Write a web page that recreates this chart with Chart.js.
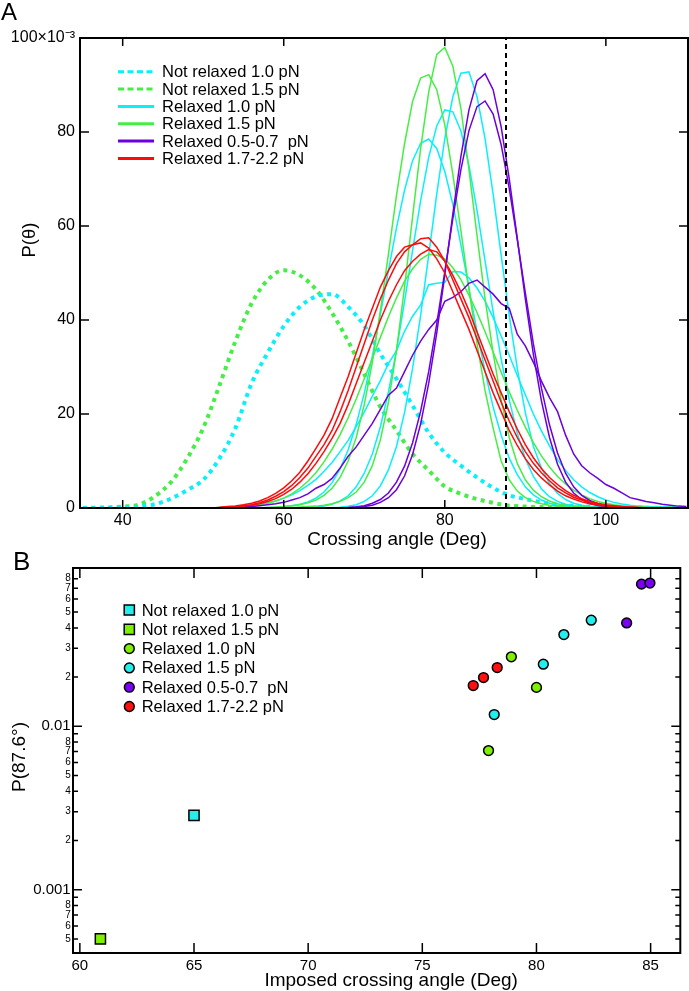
<!DOCTYPE html>
<html>
<head>
<meta charset="utf-8">
<script src="https://cdn.jsdelivr.net/npm/chart.js@4.4.1/dist/chart.umd.min.js"></script>
<style>
  html, body { margin: 0; padding: 0; background: #fff; }
  body { position: relative; width: 689px; height: 991px; overflow: hidden; font-family: 'Liberation Sans', Arial, sans-serif; }
  canvas { position: absolute; left: 0; }
  #chartA { top: 0; }
  #chartB { top: 545px; }
  .panel { position: absolute; line-height: 1; color: #000; }
</style>
</head>
<body>
<canvas id="chartA" width="689" height="553"></canvas>
<canvas id="chartB" width="689" height="446"></canvas>
<div class="panel" style="left:1px;top:0px;font-size:24px">A</div>
<div class="panel" style="left:13px;top:548px;font-size:26px">B</div>
<script>
const FONT = "'Liberation Sans', Arial, sans-serif";
Chart.defaults.font.family = FONT;
Chart.defaults.color = '#000';

// ---------- panel A : P(theta) distributions (x10^-3) ----------
const angleDotted = [34, 36, 38, 40, 42, 44, 46, 48, 50, 52, 54, 56, 58, 60, 62, 64, 66, 68, 70, 72,
  74, 76, 78, 80, 82, 84, 86, 88, 90, 92, 94, 96, 98, 100, 102, 104, 106, 108, 110];
const notRelaxed10 = [0, 0, 0.05, 0.1, 0.3, 0.8, 2, 3.8, 6, 10.5,
  17, 26.5, 33, 38.7, 42.8, 45, 45.5, 42.8, 38.8, 32.8,
  27.5, 21.8, 16, 11.8, 9, 6.5, 4.3, 2.7, 1.9, 1.2,
  0.7, 0.4, 0.3, 0.2, 0.15, 0.1, 0.05, 0, 0];
const notRelaxed15 = [0, 0.05, 0.1, 0.3, 0.7, 2.5, 5.5, 10.5, 17, 26,
  35.5, 43.5, 48.5, 50.6, 49.5, 46.5, 41.5, 35.5, 28.5, 21.5,
  16.5, 11.5, 8, 4.6, 3, 1.9, 1.1, 0.5, 0.3, 0.2,
  0.1, 0.05, 0, 0, 0, 0, 0, 0, 0];

const angleSolid = [50, 51, 52, 53, 54, 55, 56, 57, 58, 59,
  60, 61, 62, 63, 64, 65, 66, 67, 68, 69,
  70, 71, 72, 73, 74, 75, 76, 77, 78, 79,
  80, 81, 82, 83, 84, 85, 86, 87, 88, 89,
  90, 91, 92, 93, 94, 95, 96, 97, 98, 99,
  100, 101, 102, 103, 104, 105, 106, 107, 108, 109, 110];

// Relaxed 1.0 pN (cyan)
const relaxed10_a = [0, 0, 0, 0, 0, 0, 0, 0, 0, 0,
  0, 0, 0, 0, 0, 0, 0.05, 0.15, 0.35, 0.7,
  1.4, 2.6, 4.7, 8.1, 13.1, 20.3, 29.7, 41, 53.8, 66.8,
  78.6, 87.5, 92.5, 92.8, 87.5, 78.6, 66.8, 53.8, 41, 29.7,
  20.3, 13.1, 8.5, 5.2, 3.1, 1.8, 1, 0.6, 0.35, 0.2,
  0.1, 0.05, 0, 0, 0, 0, 0, 0, 0, 0, 0];
const relaxed10_b = [0, 0, 0, 0, 0, 0, 0, 0, 0, 0,
  0, 0, 0, 0, 0.2, 0.4, 0.8, 1.5, 2.6, 4.5,
  7.4, 11.5, 17.3, 24.7, 33.6, 43.9, 54.8, 65.4, 74.6, 81.3,
  84.7, 84.3, 80.2, 72.9, 63.4, 52.6, 41.8, 31.7, 23, 15.9,
  10.5, 6.7, 4.1, 2.4, 1.4, 0.8, 0.45, 0.25, 0.12, 0.06,
  0, 0, 0, 0, 0, 0, 0, 0, 0, 0, 0];
const relaxed10_c = [0, 0, 0, 0, 0, 0, 0, 0, 0.1, 0.18,
  0.3, 0.5, 0.8, 1.3, 2.1, 3.4, 5.4, 8.3, 12.4, 17.8,
  24.4, 32.3, 41.2, 50.5, 59.6, 67.6, 73.9, 77.6, 78.5, 76.5,
  71.6, 64.6, 56, 46.8, 37.5, 29.1, 21.5, 15.5, 10.6, 7.1,
  4.5, 2.8, 1.7, 1, 0.6, 0.35, 0.2, 0.1, 0.05, 0,
  0, 0, 0, 0, 0, 0, 0, 0, 0, 0, 0];
const relaxed10_d = [0, 0, 0.1, 0.15, 0.25, 0.4, 0.55, 0.8, 1.1, 1.5,
  2.1, 2.8, 3.7, 4.8, 6.1, 7.8, 9.7, 12, 14.4, 17.3,
  20.4, 23.8, 27.1, 30.7, 33.5, 37.6, 40.8, 43.2, 47.5, 47.8,
  48, 50.3, 50.2, 49, 46.8, 44, 40.5, 36.6, 32.5, 28.2,
  24.1, 20, 16.4, 13.2, 10.3, 8, 6, 4.5, 3.3, 2.4,
  1.7, 1.2, 0.85, 0.6, 0.4, 0.3, 0.2, 0.15, 0.1, 0.1, 0.05];

// Relaxed 1.5 pN (green)
const relaxed15_a = [0, 0, 0, 0, 0, 0, 0, 0, 0, 0.05,
  0.1, 0.12, 0.2, 0.3, 0.4, 0.6, 0.9, 1.4, 2.2, 3.4,
  5.5, 9, 14.5, 22.5, 33.5, 47, 62, 76.5, 88.5, 96.5,
  98, 94, 85, 72, 58, 44.5, 33, 23, 15, 9.5,
  6, 3.8, 2.4, 1.5, 0.9, 0.6, 0.4, 0.25, 0.15, 0.1,
  0.05, 0.03, 0, 0, 0, 0, 0, 0, 0, 0, 0];
const relaxed15_b = [0, 0, 0, 0, 0, 0, 0, 0, 0.1, 0.2,
  0.3, 0.5, 0.7, 1.1, 1.7, 2.7, 4.2, 6.5, 10, 15,
  22, 31, 42, 54, 66.5, 77.5, 86.5, 91.5, 92.2, 89,
  81.5, 71, 59, 46.5, 35, 25, 17, 10, 6, 3.6,
  2.2, 1.4, 0.9, 0.6, 0.35, 0.2, 0.1, 0.05, 0, 0,
  0, 0, 0, 0, 0, 0, 0, 0, 0, 0, 0];
const relaxed15_c = [0, 0, 0.1, 0.15, 0.2, 0.3, 0.45, 0.7, 1, 1.5,
  2.1, 3, 4.2, 5.7, 7.5, 9.8, 12.5, 15.6, 19.2, 23.2,
  27.5, 31.8, 36.3, 40.7, 44.7, 48.2, 50.9, 52.9, 54, 53.8,
  53, 51.1, 48.6, 45.3, 41.6, 37.5, 33.2, 28.9, 24.7, 20.8,
  17.2, 13.9, 11.1, 8.7, 6.7, 5.1, 3.8, 2.8, 2, 1.4,
  1, 0.7, 0.5, 0.35, 0.25, 0.15, 0.1, 0.05, 0, 0, 0];

// Relaxed 0.5-0.7 pN (purple)
const relaxed0507_a = [0, 0, 0, 0, 0, 0, 0, 0, 0, 0,
  0, 0, 0, 0, 0, 0, 0, 0, 0.05, 0.15,
  0.3, 0.6, 1.2, 2.2, 3.9, 6.8, 11.4, 17.9, 26.5, 37.2,
  49.6, 62.6, 74.8, 84.7, 90.9, 92.4, 89, 81.1, 70.1, 57.4,
  44.5, 32.7, 22.8, 15, 9.3, 5.5, 3.2, 1.8, 1, 0.55,
  0.3, 0.15, 0.08, 0.04, 0, 0, 0, 0, 0, 0, 0];
const relaxed0507_b = [0, 0, 0, 0, 0, 0, 0, 0, 0, 0,
  0, 0, 0, 0, 0, 0, 0, 0, 0.1, 0.25,
  0.5, 1, 1.8, 3.2, 5.5, 8.9, 13.9, 20.6, 29, 39.2,
  50.3, 61.6, 72, 80.3, 85.4, 86.6, 83.8, 77.3, 68, 57.1,
  45.8, 34.9, 25.5, 17.7, 11.7, 7.4, 4.5, 2.7, 1.6, 0.9,
  0.5, 0.3, 0.15, 0.08, 0.04, 0, 0, 0, 0, 0, 0];
const relaxed0507_c = [0, 0, 0, 0, 0.1, 0.2, 0.3, 0.5, 0.7, 0.9,
  1.2, 1.7, 2.2, 3, 4.2, 5, 6.3, 8.5, 11, 13,
  15.5, 18, 21, 24, 25.5, 29, 32.5, 35.5, 38, 40,
  44, 44.8, 46, 47.8, 48.5, 47, 45.5, 43.5, 42.5, 37,
  34.5, 31, 27, 23.5, 20.5, 15.5, 11.5, 9, 7.5, 6.3,
  5, 4.2, 3.2, 2.2, 1.8, 1.4, 1.1, 0.8, 0.6, 0.4, 0.3];

// Relaxed 1.7-2.2 pN (red)
const relaxed1722_a = [0, 0, 0.1, 0.2, 0.3, 0.5, 0.7, 1.1, 1.7, 2.5,
  3.5, 4.8, 6.5, 8.5, 11, 13.5, 16.5, 20.5, 25, 30,
  35, 40, 44.5, 48.5, 52, 54.5, 56, 57.3, 57.5, 55.5,
  52.5, 48.5, 44.5, 40.5, 36, 31.5, 27, 22.5, 18.5, 15,
  12, 9.5, 7.5, 5.8, 4.3, 3.2, 2.3, 1.7, 1.2, 0.8,
  0.5, 0.35, 0.25, 0.15, 0.1, 0.05, 0, 0, 0, 0, 0];
const relaxed1722_b = [0, 0, 0.1, 0.3, 0.45, 0.7, 1, 1.5, 2.2, 3.1,
  4.3, 5.8, 7.6, 10, 12.7, 15.5, 19, 23.5, 28, 33,
  38, 42.5, 47, 50.5, 53.5, 55.5, 56, 56.4, 55.3, 53,
  50, 46, 42, 38, 33.5, 29, 24.5, 20.5, 16.5, 13.3,
  10.5, 8.2, 6.4, 4.9, 3.6, 2.6, 1.9, 1.3, 0.9, 0.6,
  0.4, 0.25, 0.15, 0.1, 0.05, 0, 0, 0, 0, 0, 0];
const relaxed1722_c = [0, 0, 0, 0.15, 0.25, 0.4, 0.6, 0.9, 1.4, 2,
  2.9, 4, 5.5, 7.3, 9.5, 12, 14.8, 18, 22, 26.5,
  31, 35.5, 40, 44, 47.5, 50.5, 52.5, 54, 55, 54.5,
  52.5, 49.5, 46, 42, 37.5, 33, 28.5, 24.5, 20.5, 16.8,
  13.5, 10.7, 8.4, 6.5, 5, 3.7, 2.7, 2, 1.4, 1,
  0.7, 0.5, 0.3, 0.2, 0.1, 0.05, 0, 0, 0, 0, 0];

const markerAngle = 87.6;
const thetaTicksA = [40, 60, 80, 100];
const probTicksA = [0, 20, 40, 60, 80, 100];
const probLabelsA = ['0', '20', '40', '60', '80', '100×10⁻³'];

// ---------- panel B : P(87.6°) vs imposed angle ----------
const notRelaxed10X = [65.0];
const notRelaxed10Y = [0.00285];
const notRelaxed15X = [60.9];
const notRelaxed15Y = [0.0005];
const relaxed10X = [77.9, 78.9, 80.0];
const relaxed10Y = [0.0071, 0.0266, 0.0173];
const relaxed15X = [78.15, 80.3, 81.2, 82.4];
const relaxed15Y = [0.0118, 0.024, 0.0364, 0.0446];
const relaxed0507X = [83.95, 84.6, 84.97];
const relaxed0507Y = [0.0429, 0.0741, 0.0752];
const relaxed1722X = [77.23, 77.68, 78.28];
const relaxed1722Y = [0.01775, 0.01987, 0.02288];

const angleTicksB = [60, 65, 70, 75, 80, 85];
const probTicksB = [0.0005, 0.0006, 0.0007, 0.0008, 0.0009, 0.001, 0.002, 0.003, 0.004, 0.005, 0.006,
  0.007, 0.008, 0.009, 0.01, 0.02, 0.03, 0.04, 0.05, 0.06, 0.07, 0.08];
const probLabelsB = ['5', '6', '7', '8', '', '0.001', '2', '3', '4', '5', '6',
  '7', '8', '', '0.01', '2', '3', '4', '5', '6', '7', '8'];

const CYAN = '#08f0fa';
const GREEN = '#45ee45';
const PURPLE = '#6c00dc';
const RED = '#ff0a0a';
const CYAN_B = '#22eeee';
const GREEN_B = '#7ff000';
const PURPLE_B = '#7c00f4';
const RED_B = '#ff1010';

const toPoints = (xs, ys) => xs.map((x, i) => ({ x: x, y: ys[i] }));

// inward ticks on all four sides + box frame
const frameTicks = {
  id: 'frameTicks',
  afterDraw(chart, args, opts) {
    const { ctx, chartArea: a } = chart;
    const xs = chart.scales.x, ys = chart.scales.y;
    ctx.save();
    ctx.strokeStyle = '#000';
    ctx.lineWidth = opts.tickWidth;
    ctx.beginPath();
    xs.ticks.forEach(t => {
      const p = xs.getPixelForValue(t.value);
      ctx.moveTo(p, a.bottom); ctx.lineTo(p, a.bottom - opts.xLen);
      ctx.moveTo(p, a.top); ctx.lineTo(p, a.top + opts.xLen);
    });
    ys.ticks.forEach(t => {
      const p = ys.getPixelForValue(t.value);
      const len = t.major === false ? opts.yMinor : opts.yMajor;
      ctx.moveTo(a.left, p); ctx.lineTo(a.left + len, p);
      ctx.moveTo(a.right, p); ctx.lineTo(a.right - len, p);
    });
    ctx.stroke();
    ctx.lineWidth = opts.frameWidth;
    ctx.strokeRect(a.left, a.top, a.right - a.left, a.bottom - a.top);
    ctx.restore();
  }
};

// axis titles, placed off-centre like the original figure
const axisTitles = {
  id: 'axisTitles',
  afterDraw(chart, args, opts) {
    const { ctx, chartArea: a } = chart;
    ctx.save();
    ctx.fillStyle = '#000';
    ctx.textAlign = 'center';
    ctx.textBaseline = 'alphabetic';
    ctx.font = opts.size + 'px ' + FONT;
    ctx.fillText(opts.xText, (a.left + a.right) / 2 + opts.xShift, a.bottom + opts.xBase);
    ctx.translate(a.left - opts.yBase, a.top + opts.yCenter);
    ctx.rotate(-Math.PI / 2);
    ctx.font = opts.ySize + 'px ' + FONT;
    ctx.fillText(opts.yText, 0, 0);
    ctx.restore();
  }
};

// legend inside plot A: line samples
const legendA = {
  id: 'legendA',
  afterDraw(chart) {
    const { ctx, chartArea: a } = chart;
    ctx.save();
    ctx.font = '16.5px ' + FONT;
    ctx.textBaseline = 'middle';
    chart.data.datasets.forEach(d => {
      if (d.legendRow === undefined) return;
      const y = a.top + 33.7 + d.legendRow * 17.35;
      ctx.strokeStyle = d.borderColor;
      ctx.lineWidth = 3;
      ctx.setLineDash(d.borderDash ? [6, 3.5] : []);
      ctx.beginPath();
      ctx.moveTo(a.left + 38, y);
      ctx.lineTo(a.left + 74, y);
      ctx.stroke();
      ctx.setLineDash([]);
      ctx.fillStyle = '#000';
      ctx.fillText(d.label, a.left + 82, y + 1);
    });
    ctx.restore();
  }
};

// legend inside plot B: markers
const legendB = {
  id: 'legendB',
  afterDraw(chart) {
    const { ctx, chartArea: a } = chart;
    ctx.save();
    ctx.font = '16.5px ' + FONT;
    ctx.textBaseline = 'middle';
    chart.data.datasets.forEach((d, i) => {
      const y = a.top + 42 + i * 19.3;
      const x = a.left + 56.3;
      ctx.fillStyle = d.backgroundColor;
      ctx.strokeStyle = '#000';
      ctx.lineWidth = 1.5;
      ctx.beginPath();
      if (d.pointStyle === 'rect') {
        const s = d.pointRadius * Math.SQRT1_2;
        ctx.rect(x - s, y - s, 2 * s, 2 * s);
      } else {
        ctx.arc(x, y, d.pointRadius, 0, Math.PI * 2);
      }
      ctx.fill();
      ctx.stroke();
      ctx.fillStyle = '#000';
      ctx.fillText(d.label, a.left + 68.7, y + 1);
    });
    ctx.restore();
  }
};

function solidLine(label, values, color, row) {
  return {
    label: label,
    data: toPoints(angleSolid, values),
    borderColor: color,
    borderWidth: 1.5,
    legendRow: row,
    order: 2
  };
}

const datasetsA = [
  {
    label: 'Not relaxed 1.0 pN', data: toPoints(angleDotted, notRelaxed10),
    borderColor: CYAN, borderWidth: 4, borderDash: [4, 4.5], cubicInterpolationMode: 'monotone',
    legendRow: 0, order: 3
  },
  {
    label: 'Not relaxed 1.5 pN', data: toPoints(angleDotted, notRelaxed15),
    borderColor: GREEN, borderWidth: 4, borderDash: [4, 4.5], cubicInterpolationMode: 'monotone',
    legendRow: 1, order: 3
  },
  solidLine('Relaxed 1.0 pN', relaxed10_a, CYAN, 2),
  solidLine('Relaxed 1.0 pN', relaxed10_b, CYAN),
  solidLine('Relaxed 1.0 pN', relaxed10_c, CYAN),
  solidLine('Relaxed 1.0 pN', relaxed10_d, CYAN),
  solidLine('Relaxed 1.5 pN', relaxed15_a, GREEN, 3),
  solidLine('Relaxed 1.5 pN', relaxed15_b, GREEN),
  solidLine('Relaxed 1.5 pN', relaxed15_c, GREEN),
  solidLine('Relaxed 0.5-0.7  pN', relaxed0507_a, PURPLE, 4),
  solidLine('Relaxed 0.5-0.7  pN', relaxed0507_b, PURPLE),
  solidLine('Relaxed 0.5-0.7  pN', relaxed0507_c, PURPLE),
  solidLine('Relaxed 1.7-2.2 pN', relaxed1722_a, RED, 5),
  solidLine('Relaxed 1.7-2.2 pN', relaxed1722_b, RED),
  solidLine('Relaxed 1.7-2.2 pN', relaxed1722_c, RED),
  {
    label: 'P(87.6°) marker',
    data: [{ x: markerAngle, y: probTicksA[0] }, { x: markerAngle, y: probTicksA[probTicksA.length - 1] }],
    borderColor: '#000', borderWidth: 2, borderDash: [5, 4], order: 0
  }
];
// red drawn over purple over green over cyan
datasetsA.forEach((d, i) => { if (d.order === 2) d.order = 2 + (15 - i) / 100; });

new Chart(document.getElementById('chartA'), {
  type: 'line',
  data: { datasets: datasetsA },
  options: {
    responsive: false,
    animation: false,
    devicePixelRatio: 1,
    layout: { padding: { top: 38, right: 1, left: 0, bottom: 0 } },
    elements: { point: { radius: 0 }, line: { tension: 0 } },
    plugins: {
      legend: { display: false },
      tooltip: { enabled: false },
      frameTicks: { tickWidth: 1.5, frameWidth: 2, xLen: 8, yMajor: 9, yMinor: 5 },
      axisTitles: {
        xText: 'Crossing angle (Deg)', size: 19, xShift: 13, xBase: 37,
        yText: 'P(θ)', ySize: 18.5, yBase: 45, yCenter: 202
      }
    },
    scales: {
      x: {
        type: 'linear', min: 34.7, max: 110.2,
        grid: { display: false, drawTicks: false },
        border: { display: false },
        afterBuildTicks: s => { s.ticks = thetaTicksA.map(v => ({ value: v })); },
        afterFit: s => { s.height = 45; },
        ticks: { padding: 3, autoSkip: false, maxRotation: 0, font: { size: 16 } }
      },
      y: {
        type: 'linear', min: 0, max: 100,
        grid: { display: false, drawTicks: false },
        border: { display: false },
        afterBuildTicks: s => { s.ticks = probTicksA.map(v => ({ value: v })); },
        afterFit: s => { s.width = 80; },
        ticks: { padding: 5, autoSkip: false, font: { size: 16 }, callback: (v, i) => probLabelsA[i] }
      }
    }
  },
  plugins: [frameTicks, axisTitles, legendA]
});

// ---------- chart B ----------
function markerSet(label, xs, ys, color, style) {
  return {
    label: label,
    data: toPoints(xs, ys),
    backgroundColor: color,
    borderColor: '#000',
    borderWidth: 1.5,
    pointStyle: style,
    pointRadius: style === 'rect' ? 7.2 : 4.9,
    pointBorderWidth: 1.5
  };
}

new Chart(document.getElementById('chartB'), {
  type: 'scatter',
  data: {
    datasets: [
      markerSet('Not relaxed 1.0 pN', notRelaxed10X, notRelaxed10Y, CYAN_B, 'rect'),
      markerSet('Not relaxed 1.5 pN', notRelaxed15X, notRelaxed15Y, GREEN_B, 'rect'),
      markerSet('Relaxed 1.0 pN', relaxed10X, relaxed10Y, GREEN_B, 'circle'),
      markerSet('Relaxed 1.5 pN', relaxed15X, relaxed15Y, CYAN_B, 'circle'),
      markerSet('Relaxed 0.5-0.7  pN', relaxed0507X, relaxed0507Y, PURPLE_B, 'circle'),
      markerSet('Relaxed 1.7-2.2 pN', relaxed1722X, relaxed1722Y, RED_B, 'circle')
    ]
  },
  options: {
    responsive: false,
    animation: false,
    devicePixelRatio: 1,
    layout: { padding: { top: 23, right: 6, left: 0, bottom: 0 } },
    plugins: {
      legend: { display: false },
      tooltip: { enabled: false },
      frameTicks: { tickWidth: 1.5, frameWidth: 2, xLen: 10, yMajor: 9, yMinor: 5 },
      axisTitles: {
        xText: 'Imposed crossing angle (Deg)', size: 19, xShift: 14.5, xBase: 33,
        yText: 'P(87.6°)', ySize: 19, yBase: 48, yCenter: 189
      }
    },
    scales: {
      x: {
        type: 'linear', min: 59.7, max: 86.3,
        grid: { display: false, drawTicks: false },
        border: { display: false },
        afterBuildTicks: s => { s.ticks = angleTicksB.map(v => ({ value: v })); },
        afterFit: s => { s.height = 38; },
        ticks: { padding: 4.2, autoSkip: false, maxRotation: 0, font: { size: 15 } }
      },
      y: {
        type: 'logarithmic', min: 0.00041, max: 0.093,
        grid: { display: false, drawTicks: false },
        border: { display: false },
        afterBuildTicks: s => {
          s.ticks = probTicksB.map((v, i) => ({ value: v, major: probLabelsB[i].startsWith('0') }));
        },
        afterFit: s => { s.width = 73; },
        ticks: {
          padding: 2.3, autoSkip: false,
          font: c => ({ size: probLabelsB[c.index] && probLabelsB[c.index].startsWith('0') ? 15 : 10 }),
          callback: (v, i) => probLabelsB[i]
        }
      }
    }
  },
  plugins: [frameTicks, axisTitles, legendB]
});
</script>
</body>
</html>
